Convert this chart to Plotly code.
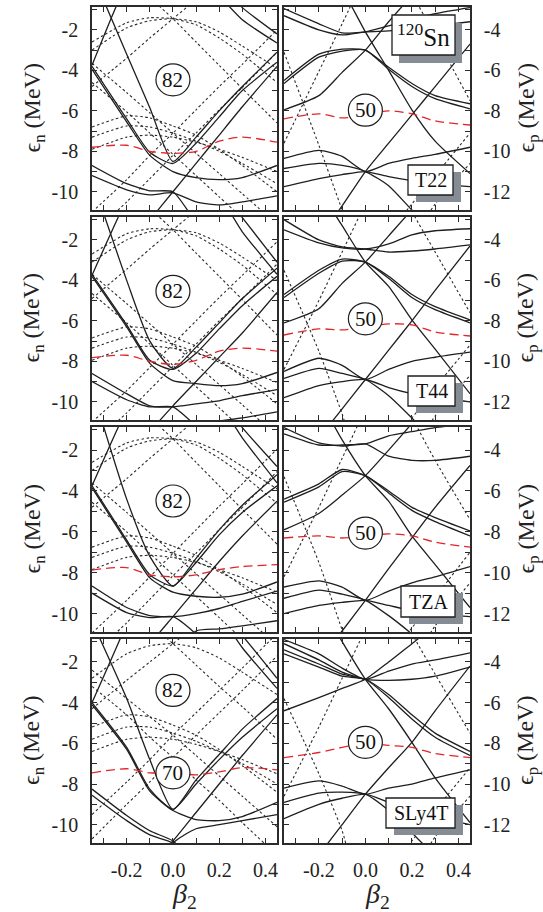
import plotly.graph_objects as go

# ---------------- data ----------------
BETA = [-0.35, -0.2, -0.1, 0.0, 0.1, 0.2, 0.3, 0.45]

X_TICKS = [-0.2, 0.0, 0.2, 0.4]
X_TICKTEXT = ['-0.2', '0.0', '0.2', '0.4']
X_MINOR = [-0.3, -0.1, 0.1, 0.3]
YN_TICKS = [-10, -8, -6, -4, -2]
YN_TICKTEXT = ['-10', '-8', '-6', '-4', '-2']
YN_MINOR = [-9, -7, -5, -3, -1]
YP_TICKS = [-12, -10, -8, -6, -4]
YP_TICKTEXT = ['-12', '-10', '-8', '-6', '-4']
YP_MINOR = [-11, -9, -7, -5, -3]

FORCES = ['T22', 'T44', 'TZA', 'SLy4T']

# neutrons, T22
N_T22_SOLID = [
    [-3.8, -6.4, -8.05, -8.6, -7.6, -6.3, -5.0, -3.6],
    [-3.95, -6.55, -8.2, -9.0, -9.3, -9.4, -9.3, -8.7],
    [0.8, -3.2, -5.85, -8.5, -7.3, -6.0, -4.8, -3.1],
    [-13.0, -12.8, -11.4, -10.0, -8.6, -7.2, -5.8, -3.8],
    [-3.75, 0.3, 2, 3, 3, 3, 3, 3],
    [5, 4, 3, 2, 1.0, -0.3, -1.5, -2.65],
    [5, 4, 3, 2, 1.4, 0.3, -0.9, -2.2],
    [-8.7, -9.6, -9.95, -10.0, -11.5, -12.5, -13, -13],
    [-9.2, -9.9, -10.15, -10.05, -10.5, -10.65, -10.5, -10.2],
]
N_T22_DOT = [
    [-3.0, -1.9, -1.55, -1.45, -1.6, -2.1, -2.8, -3.9],
    [-2.6, -1.65, -1.4, -1.45, -1.75, -2.4, -3.2, -4.6],
    [-4.8, -3.4, -2.4, -1.45, -0.5, 0.5, 1.4, 2.8],
    [2.5, 0.6, -0.4, -1.45, -2.6, -3.75, -4.9, -6.6],
    [-3.65, -5.1, -6.1, -7.1, -8.1, -9.1, -10.1, -11.6],
    [-11.0, -9.4, -8.2, -7.1, -5.95, -4.8, -3.7, -2.0],
    [-6.8, -6.25, -6.35, -6.75, -7.2, -7.9, -8.7, -10.0],
    [-7.3, -6.75, -6.8, -7.1, -7.5, -8.0, -8.6, -9.6],
    [-7.9, -7.3, -7.2, -7.3, -7.55, -7.9, -8.3, -9.0],
    [-12.1, -10.5, -9.35, -8.2, -7.1, -5.95, -4.85, -3.1],
    [-4.6, -6.05, -7.1, -8.15, -9.2, -10.25, -11.3, -12.9],
]
N_T22_FERMI = [-7.8, -7.7, -8.0, -8.1, -8.0, -7.5, -7.3, -7.55]

# neutrons, T44
N_T44_SOLID = [
    [-3.7, -6.2, -7.95, -8.4, -7.6, -6.4, -5.25, -3.8],
    [-3.8, -6.3, -8.1, -8.95, -9.1, -9.2, -9.1, -8.55],
    [1.0, -4.0, -7.0, -8.35, -7.3, -6.1, -4.9, -3.4],
    [-15, -13, -11.5, -10.2, -9.0, -7.8, -6.6, -4.6],
    [-3.75, 0.0, 2, 3, 3, 3, 3, 3],
    [5, 4, 3, 2, 1.2, 0.2, -1.6, -3.7],
    [5, 4, 3, 2, 1.6, 0.6, -0.9, -3.1],
    [-8.6, -9.6, -10.2, -10.25, -10.1, -9.95, -9.7, -9.4],
    [-9.0, -9.9, -10.25, -10.25, -11.2, -12.3, -13, -13],
    [-14, -14, -14, -13, -11.1, -10.95, -10.8, -10.5],
]
N_T44_DOT = [
    [-3.1, -2.0, -1.6, -1.5, -1.65, -2.15, -2.85, -4.0],
    [-2.7, -1.7, -1.45, -1.5, -1.8, -2.45, -3.25, -4.7],
    [-4.9, -3.45, -2.45, -1.5, -0.55, 0.45, 1.4, 2.8],
    [2.4, 0.5, -0.45, -1.5, -2.65, -3.8, -4.95, -6.7],
    [-3.7, -5.15, -6.15, -7.15, -8.15, -9.15, -10.15, -11.7],
    [-11.0, -9.45, -8.3, -7.15, -6.0, -4.85, -3.75, -2.1],
    [-6.85, -6.3, -6.4, -6.8, -7.25, -7.95, -8.75, -10.1],
    [-7.35, -6.8, -6.85, -7.15, -7.55, -8.05, -8.65, -9.7],
    [-7.95, -7.35, -7.25, -7.35, -7.6, -7.95, -8.35, -9.05],
    [-12.1, -10.55, -9.4, -8.25, -7.15, -6.0, -4.9, -3.2],
    [-4.65, -6.1, -7.15, -8.2, -9.25, -10.3, -11.35, -13.0],
]
N_T44_FERMI = [-7.82, -7.7, -8.0, -8.15, -7.95, -7.5, -7.35, -7.5]

# neutrons, TZA
N_TZA_SOLID = [
    [-3.75, -6.4, -8.1, -8.65, -7.5, -6.15, -5.05, -3.75],
    [-3.85, -6.5, -8.25, -8.95, -9.15, -9.2, -9.05, -8.45],
    [1.0, -4.4, -7.2, -8.65, -7.3, -5.9, -4.7, -3.2],
    [-15, -13, -11.5, -10.15, -8.8, -7.45, -6.2, -4.5],
    [-3.75, 0.0, 2, 3, 3, 3, 3, 3],
    [5, 4, 3, 2, 1.2, 0.3, -1.4, -3.6],
    [5, 4, 3, 2, 1.6, 0.6, -0.9, -2.8],
    [-8.65, -9.7, -10.1, -10.15, -10.0, -9.75, -9.4, -8.9],
    [-9.0, -9.95, -10.2, -10.15, -11.0, -12.2, -13, -13],
    [-14, -14, -14, -12, -10.85, -10.75, -10.6, -10.35],
]
N_TZA_DOT = [
    [-3.0, -1.9, -1.55, -1.45, -1.6, -2.1, -2.8, -3.9],
    [-2.6, -1.65, -1.4, -1.45, -1.75, -2.4, -3.2, -4.6],
    [-4.8, -3.4, -2.4, -1.45, -0.5, 0.5, 1.4, 2.8],
    [2.5, 0.6, -0.4, -1.45, -2.6, -3.75, -4.9, -6.6],
    [-3.6, -5.05, -6.05, -7.05, -8.05, -9.05, -10.05, -11.55],
    [-10.95, -9.35, -8.2, -7.05, -5.9, -4.75, -3.65, -1.95],
    [-6.75, -6.2, -6.3, -6.7, -7.15, -7.85, -8.65, -9.95],
    [-7.25, -6.7, -6.75, -7.05, -7.45, -7.95, -8.55, -9.55],
    [-7.85, -7.25, -7.15, -7.25, -7.5, -7.85, -8.25, -8.95],
    [-12.05, -10.45, -9.3, -8.15, -7.05, -5.9, -4.8, -3.05],
    [-4.55, -6.0, -7.05, -8.1, -9.15, -10.2, -11.25, -12.85],
]
N_TZA_FERMI = [-7.87, -7.75, -8.1, -8.2, -8.1, -7.85, -7.7, -7.6]

# neutrons, SLy4T
N_SLY4T_SOLID = [
    [-4.0, -6.2, -8.25, -9.25, -8.0, -6.8, -5.7, -4.3],
    [-4.1, -6.3, -8.35, -9.3, -9.75, -9.8, -9.6, -8.9],
    [0.0, -3.8, -6.8, -9.25, -7.8, -6.55, -5.3, -3.8],
    [-15, -13, -12, -10.8, -9.4, -8.0, -6.6, -4.6],
    [-4.0, -0.1, 3, 3, 3, 3, 3, 3],
    [5, 4, 3, 2, 1.0, 0.3, -1.3, -3.3],
    [5, 4, 3, 2, 1.4, 0.6, -0.7, -2.8],
    [-8.25, -9.55, -10.3, -10.8, -12, -13, -13, -13],
    [-8.55, -9.8, -10.5, -10.9, -11.9, -13, -13, -13],
    [-13, -13, -12.5, -10.9, -10.2, -10.0, -9.8, -9.5],
]
N_SLY4T_DOT = [
    [-2.8, -1.6, -1.2, -1.1, -1.3, -1.8, -2.5, -3.6],
    [-4.3, -2.9, -2.0, -1.1, -0.2, 0.8, 1.7, 3.0],
    [2.8, 0.8, -0.1, -1.1, -2.15, -3.2, -4.2, -5.8],
    [-2.4, -3.8, -4.7, -5.6, -6.6, -7.6, -8.6, -10.1],
    [-9.5, -7.9, -6.8, -5.6, -4.5, -3.4, -2.3, -0.6],
    [-5.2, -4.6, -4.7, -5.1, -5.6, -6.3, -7.1, -8.4],
    [-5.8, -5.2, -5.2, -5.5, -5.9, -6.4, -7.0, -8.0],
    [-6.4, -5.8, -5.7, -5.8, -6.05, -6.4, -6.8, -7.5],
    [-10.7, -9.0, -7.9, -6.7, -5.6, -4.5, -3.4, -1.7],
    [-3.2, -4.6, -5.7, -6.7, -7.8, -8.8, -9.9, -11.5],
]
N_SLY4T_FERMI = [-7.45, -7.25, -7.45, -7.45, -7.55, -7.4, -7.2, -7.3]

# protons, T22
P_T22_SOLID = [
    [-2.95, -3.7, -4.15, -4.1, -3.8, -3.5, -3.2, -2.9],
    [-3.3, -4.0, -4.25, -4.1, -4.05, -3.95, -3.8, -3.6],
    [2, -0.5, -2.0, -4.1, -6.0, -7.95, -9.5, -11.1],
    [-17, -14.3, -12.7, -11.0, -9.6, -8.2, -6.8, -4.7],
    [-6.5, -5.2, -4.95, -5.0, -5.85, -6.65, -7.25, -7.65],
    [-6.65, -5.35, -5.05, -5.0, -5.95, -6.8, -7.4, -7.9],
    [-7.95, -7.25, -6.1, -5.0, -3.6, -2.3, -1.0, 1.0],
    [-10.35, -9.95, -10.25, -11.0, -10.6, -10.35, -10.15, -9.8],
    [-10.85, -10.6, -10.7, -11.0, -11.7, -12.9, -14, -15],
    [-11.75, -11.35, -11.15, -11.0, -11.25, -11.45, -11.6, -11.75],
]
P_T22_DOT = [
    [-5.1, -9.7, -12.9, -16, -16, -16, -16, -16],
    [-9.6, -6.05, -3.7, -1.3, 1, 2, 3, 4],
    [5, 4, 3, 2, 0, -2.2, -4.3, -7.5],
    [-20, -18, -16, -15, -14, -12.6, -11.2, -9.1],
    [-20, -20, -20, -20, -17, -14.5, -12.6, -10.6],
]
P_T22_FERMI = [-8.4, -8.15, -8.35, -8.2, -8.0, -8.15, -8.5, -8.7]

# protons, T44
P_T44_SOLID = [
    [-3.0, -4.0, -4.35, -4.45, -4.6, -4.55, -4.45, -4.25],
    [-3.5, -4.15, -4.4, -4.45, -4.2, -3.75, -3.55, -3.45],
    [1, -1.5, -3.3, -5.1, -6.3, -7.95, -9.4, -11.6],
    [-16, -13.8, -12.35, -10.9, -9.45, -8.0, -6.5, -4.3],
    [-6.7, -5.5, -4.95, -5.1, -5.8, -6.7, -7.3, -7.95],
    [-6.85, -5.65, -5.05, -5.1, -5.9, -6.85, -7.45, -8.1],
    [-8.1, -7.4, -6.15, -5.1, -3.8, -2.5, -1.0, 1.0],
    [-10.5, -9.85, -10.2, -10.9, -10.4, -10.0, -9.8, -9.55],
    [-10.85, -10.35, -10.6, -10.9, -11.7, -12.8, -14, -15],
    [-11.8, -11.2, -11.0, -10.9, -11.3, -11.6, -11.8, -12.0],
]
P_T44_DOT = [
    [-5.5, -9.5, -12.6, -16, -16, -16, -16, -16],
    [-10.4, -7.0, -4.6, -2.2, 0.2, 2, 3, 4],
    [5, 4, 3, 1.5, -0.5, -2.6, -4.6, -7.6],
    [-20, -18, -16, -15, -14, -12.8, -11.3, -9.2],
    [-20, -20, -20, -20, -17, -14.6, -12.7, -10.7],
]
P_T44_FERMI = [-8.7, -8.4, -8.45, -8.3, -8.15, -8.2, -8.55, -8.75]

# protons, TZA
P_TZA_SOLID = [
    [-2.9, -3.65, -3.8, -3.7, -4.3, -4.5, -4.5, -4.3],
    [-3.2, -3.75, -3.75, -3.7, -3.3, -3.1, -2.9, -2.7],
    [1, -1.5, -3.5, -5.25, -6.5, -8.2, -9.6, -11.7],
    [-16, -14.3, -12.85, -11.35, -9.8, -8.3, -6.8, -4.75],
    [-6.4, -5.65, -4.95, -5.25, -6.0, -6.8, -7.3, -7.95],
    [-6.55, -5.8, -5.05, -5.25, -6.1, -6.95, -7.5, -8.2],
    [-7.9, -7.1, -6.2, -5.25, -4.0, -2.7, -1.4, 0.5],
    [-10.7, -10.4, -10.7, -11.35, -10.9, -10.5, -10.2, -9.7],
    [-11.25, -10.85, -11.05, -11.35, -12.1, -13, -14, -15],
    [-12.0, -11.6, -11.45, -11.35, -11.6, -11.85, -12.0, -12.15],
]
P_TZA_DOT = [
    [-5.3, -9.5, -12.8, -16, -16, -16, -16, -16],
    [-10.2, -6.8, -4.4, -2.0, 0.4, 2, 3, 4],
    [5, 4, 3, 1.5, -0.3, -2.4, -4.5, -7.4],
    [-20, -18, -16, -15, -14, -12.7, -11.2, -9.0],
    [-20, -20, -20, -20, -17, -14.5, -12.6, -10.5],
]
P_TZA_FERMI = [-8.3, -8.2, -8.3, -8.2, -8.1, -8.2, -8.5, -8.75]

# protons, SLy4T
P_SLY4T_SOLID = [
    [-3.1, -3.9, -4.5, -4.85, -4.9, -4.85, -4.7, -4.25],
    [-2.9, -3.6, -4.3, -4.85, -4.45, -4.1, -3.9, -3.55],
    [1, -1, -3, -4.85, -6.3, -7.95, -9.7, -11.9],
    [-16, -13.5, -12.0, -10.5, -9.2, -7.95, -6.4, -4.2],
    [-3.4, -4.1, -4.6, -4.85, -5.6, -6.6, -7.5, -8.4],
    [-3.6, -4.25, -4.7, -4.85, -5.75, -6.8, -7.7, -8.6],
    [-6.4, -5.75, -5.3, -4.85, -4.0, -3.1, -2.2, -0.8],
    [-10.2, -9.85, -10.1, -10.5, -10.2, -10.0, -9.7, -9.3],
    [-10.9, -10.45, -10.4, -10.5, -11.3, -12.4, -13.5, -14.5],
    [-11.7, -11.0, -10.7, -10.5, -10.9, -11.3, -11.6, -12.0],
]
P_SLY4T_DOT = [
    [-5.8, -9.5, -12.3, -16, -16, -16, -16, -16],
    [-10.6, -7.2, -4.8, -2.4, 0, 2, 3, 4],
    [5, 4, 3, 1.5, -0.5, -2.6, -4.6, -7.5],
    [-20, -18, -16, -15, -14, -12.8, -11.3, -9.2],
    [-20, -20, -20, -20, -17, -14.5, -12.6, -10.6],
]
P_SLY4T_FERMI = [-8.7, -8.45, -8.2, -8.0, -8.1, -8.2, -8.5, -8.7]

# magic-number labels (value, energy at beta = 0)
MAGIC_N_TEXT = ['82', '82', '82', '82']
MAGIC_N_E = [-4.47, -4.54, -4.49, -3.4]
MAGIC_N70_E = -7.45
MAGIC_P_TEXT = ['50', '50', '50', '50']
MAGIC_P_E = [-7.97, -7.9, -8.06, -7.95]

Y_RANGE_N = [-10.9, -0.87]
Y_RANGE_P = [-12.9, -2.87]
X_RANGE = [-0.35, 0.45]

# ---------------- layout geometry (pixels) ----------------
W, H = 543, 912
COLS_PX = [(92, 277), (284, 470)]
ROWS_PX = [(7, 210), (217, 420), (427, 632), (639, 843)]
BOXES_PX = [(408, 453, 165, 195), (408, 455, 376, 406), (401, 455, 586, 617), (386, 455, 798, 828)]
SN_BOX_PX = (392, 455, 15, 55)

FONT = 'Liberation Serif'
INK = '#1e1e1e'

panels = [
    (N_T22_SOLID, N_T22_DOT, N_T22_FERMI), (P_T22_SOLID, P_T22_DOT, P_T22_FERMI),
    (N_T44_SOLID, N_T44_DOT, N_T44_FERMI), (P_T44_SOLID, P_T44_DOT, P_T44_FERMI),
    (N_TZA_SOLID, N_TZA_DOT, N_TZA_FERMI), (P_TZA_SOLID, P_TZA_DOT, P_TZA_FERMI),
    (N_SLY4T_SOLID, N_SLY4T_DOT, N_SLY4T_FERMI), (P_SLY4T_SOLID, P_SLY4T_DOT, P_SLY4T_FERMI),
]

fig = go.Figure()
shapes = []
annotations = []


def px_x(x):
    return x / W


def px_y(y):
    return 1 - y / H


def note(x, y, text, size, xref='paper', yref='paper', angle=0, color='#111'):
    return dict(x=x, y=y, xref=xref, yref=yref, text=text, showarrow=False,
                xanchor='center', yanchor='middle', textangle=angle,
                font=dict(family=FONT, size=size, color=color))


for k, (solid, dot, fermi) in enumerate(panels):
    r, c = divmod(k, 2)
    suf = '' if k == 0 else str(k + 1)
    xa, ya = 'x' + suf, 'y' + suf
    for E in dot:
        fig.add_trace(go.Scatter(x=BETA, y=E, mode='lines', xaxis=xa, yaxis=ya,
                                 line=dict(color='#2a2a2a', width=1.1, dash='2.5px,2.5px',
                                           shape='spline', smoothing=0.6),
                                 hoverinfo='skip', showlegend=False))
    for E in solid:
        fig.add_trace(go.Scatter(x=BETA, y=E, mode='lines', xaxis=xa, yaxis=ya,
                                 line=dict(color=INK, width=1.3, shape='spline', smoothing=0.6),
                                 hoverinfo='skip', showlegend=False))
    fig.add_trace(go.Scatter(x=BETA, y=fermi, mode='lines', xaxis=xa, yaxis=ya,
                             line=dict(color='#e3262a', width=1.3, dash='9px,5px',
                                       shape='spline', smoothing=0.8),
                             hoverinfo='skip', showlegend=False))

    x0, x1 = COLS_PX[c]
    y0, y1 = ROWS_PX[r]
    axis_common = dict(showline=True, linecolor='#2b2b2b', linewidth=1.6, mirror='ticks',
                       ticks='inside', ticklen=5, tickwidth=1, tickcolor='#2b2b2b',
                       showgrid=False, zeroline=False, fixedrange=True,
                       tickfont=dict(family=FONT, size=20, color='#222'))
    fig.layout['xaxis' + suf] = dict(axis_common, domain=[px_x(x0), px_x(x1)], range=X_RANGE,
                                     anchor=ya, tickmode='array', tickvals=X_TICKS,
                                     ticktext=X_TICKTEXT, showticklabels=(r == 3),
                                     ticklabelstandoff=8,
                                     minor=dict(tickmode='array', tickvals=X_MINOR, ticks='inside',
                                                ticklen=5, tickwidth=1, tickcolor='#2b2b2b',
                                                showgrid=False))
    if c == 0:
        yd = dict(range=Y_RANGE_N, tickvals=YN_TICKS, ticktext=YN_TICKTEXT, side='left',
                  minor=dict(tickmode='array', tickvals=YN_MINOR, ticks='inside', ticklen=5,
                             tickwidth=1, tickcolor='#2b2b2b', showgrid=False))
    else:
        yd = dict(range=Y_RANGE_P, tickvals=YP_TICKS, ticktext=YP_TICKTEXT, side='right',
                  minor=dict(tickmode='array', tickvals=YP_MINOR, ticks='inside', ticklen=5,
                             tickwidth=1, tickcolor='#2b2b2b', showgrid=False))
    fig.layout['yaxis' + suf] = dict(axis_common, domain=[px_y(y1), px_y(y0)], anchor=xa,
                                     tickmode='array', ticklabelstandoff=8, **yd)

    # magic number circles
    if c == 0:
        labels = [(MAGIC_N_TEXT[r], MAGIC_N_E[r])]
        if r == 3:
            labels.append(('70', MAGIC_N70_E))
    else:
        labels = [(MAGIC_P_TEXT[r], MAGIC_P_E[r])]
    for txt, e in labels:
        shapes.append(dict(type='circle', xref=xa, yref=ya, xsizemode='pixel', ysizemode='pixel',
                           xanchor=0.0, yanchor=e, x0=-17, x1=17, y0=-16, y1=16,
                           fillcolor='white', line=dict(color=INK, width=1.2), layer='above'))
        annotations.append(note(0.0, e, txt, 21, xref=xa, yref=ya))

    # axis titles
    ymid = (y0 + y1) / 2
    if c == 0:
        annotations.append(note(px_x(33), px_y(ymid), 'ϵ<sub>n</sub> (MeV)', 24, angle=-90,
                                color='#222'))
    else:
        annotations.append(note(px_x(527), px_y(ymid), 'ϵ<sub>p</sub> (MeV)', 24, angle=-90,
                                color='#222'))

    # force label boxes
    if c == 1:
        bx0, bx1, by0, by1 = BOXES_PX[r]
        shapes.append(dict(type='rect', xref='paper', yref='paper',
                           x0=px_x(bx0 + 8), x1=px_x(bx1 + 8), y0=px_y(by1 + 7), y1=px_y(by0 + 7),
                           fillcolor='#868c94', line=dict(width=0), layer='above'))
        shapes.append(dict(type='rect', xref='paper', yref='paper',
                           x0=px_x(bx0), x1=px_x(bx1), y0=px_y(by1), y1=px_y(by0),
                           fillcolor='white', line=dict(color=INK, width=1.3), layer='above'))
        annotations.append(note(px_x((bx0 + bx1) / 2), px_y((by0 + by1) / 2), FORCES[r], 20))

# 120Sn box
bx0, bx1, by0, by1 = SN_BOX_PX
shapes.append(dict(type='rect', xref='paper', yref='paper',
                   x0=px_x(bx0 + 7), x1=px_x(bx1 + 7), y0=px_y(by1 + 8), y1=px_y(by0 + 8),
                   fillcolor='#868c94', line=dict(width=0), layer='above'))
shapes.append(dict(type='rect', xref='paper', yref='paper',
                   x0=px_x(bx0), x1=px_x(bx1), y0=px_y(by1), y1=px_y(by0),
                   fillcolor='white', line=dict(color=INK, width=1.3), layer='above'))
annotations.append(note(px_x((bx0 + bx1) / 2), px_y((by0 + by1) / 2), '<sup>120</sup>Sn', 25))

# beta_2 labels
for cx in (184, 377):
    annotations.append(note(px_x(cx), px_y(895), '<i>β</i><sub>2</sub>', 28, color='#222'))

fig.update_layout(width=W, height=H, margin=dict(l=0, r=0, t=0, b=0),
                  paper_bgcolor='white', plot_bgcolor='white',
                  shapes=shapes, annotations=annotations, showlegend=False)

fig.write_html('out.html')
